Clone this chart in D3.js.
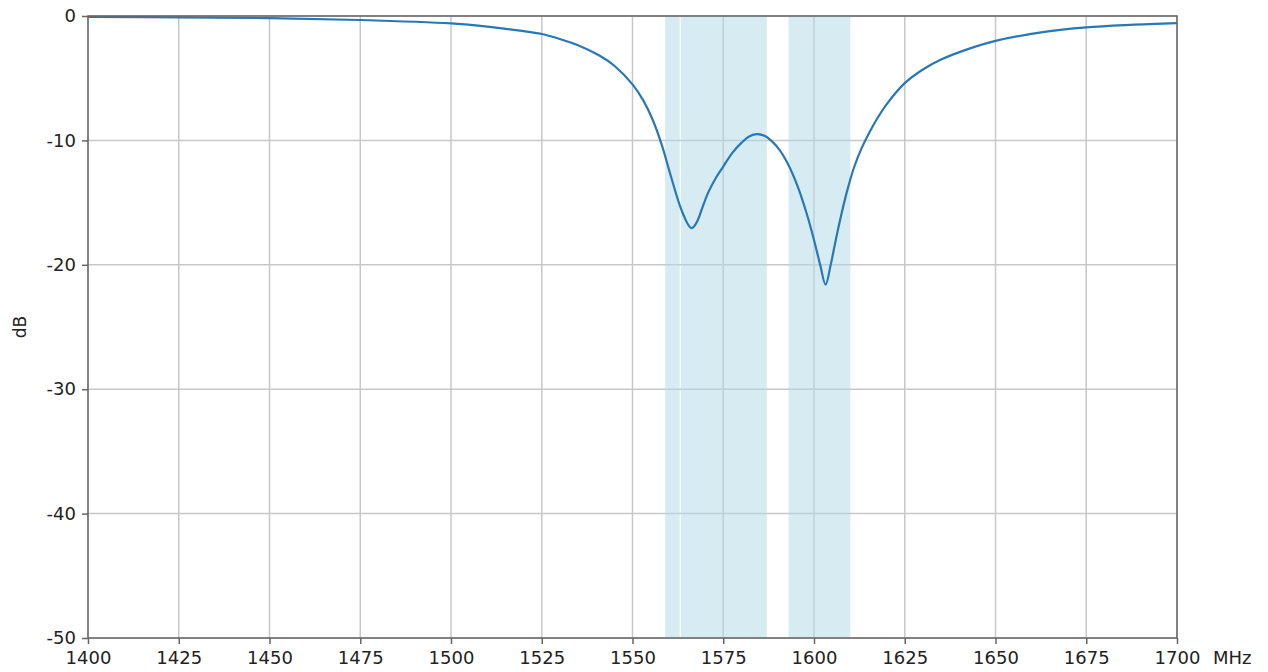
<!DOCTYPE html>
<html><head><meta charset="utf-8">
<script src="https://cdn.jsdelivr.net/npm/d3@7"></script>
<style>body{margin:0;background:#fff}svg{display:block}text{font-family:"DejaVu Sans",sans-serif;fill:#222}</style>
</head><body><svg id="c" width="1268" height="672"></svg>
<script>
const freq = [1400,1425,1450,1475,1500,1510,1519,1525,1530,1535,1541,1545,1550,1553,1555.5,1558,1560.5,1563,1564.5,1565.5,1566.2,1567,1568,1569.5,1571,1573,1575,1577.5,1580,1582,1584.2,1586.5,1588.5,1590.6,1593,1595.5,1598,1600,1601.7,1603.2,1604.6,1606,1607.5,1609,1611,1613,1615,1617.5,1620,1625,1630,1635,1642,1650,1663,1675,1687,1700];
const dB = [-0.08,-0.11,-0.17,-0.32,-0.6,-0.85,-1.18,-1.45,-1.85,-2.35,-3.2,-4.0,-5.5,-6.8,-8.3,-10.3,-12.8,-15.2,-16.3,-16.85,-17.05,-16.9,-16.4,-15.2,-14.1,-13.0,-12.1,-11.0,-10.2,-9.7,-9.5,-9.65,-10.1,-10.8,-12.0,-13.7,-15.9,-18.0,-20.0,-21.6,-20.0,-18.0,-16.0,-14.2,-12.2,-10.7,-9.5,-8.2,-7.1,-5.4,-4.3,-3.5,-2.7,-2.0,-1.3,-0.92,-0.72,-0.58];
const bandStart = [1559, 1563.3, 1593];
const bandEnd = [1563.0, 1587, 1610];
const xTicks = [1400,1425,1450,1475,1500,1525,1550,1575,1600,1625,1650,1675,1700];
const yTicks = [0,-10,-20,-30,-40,-50];

const svg = d3.select("#c");
const L=88,R=1177,T=16,B=638;
const x = d3.scaleLinear().domain([1400,1700]).range([L,R]);
const y = d3.scaleLinear().domain([-50,0]).range([B,T]);

// grid
svg.append("g").selectAll("line").data(xTicks).join("line")
  .attr("x1",d=>x(d)).attr("x2",d=>x(d)).attr("y1",T).attr("y2",B)
  .attr("stroke","#c8c8c8").attr("stroke-width",1.5);
svg.append("g").selectAll("line").data(yTicks).join("line")
  .attr("x1",L).attr("x2",R).attr("y1",d=>y(d)).attr("y2",d=>y(d))
  .attr("stroke","#c8c8c8").attr("stroke-width",1.5);

// bands
svg.append("g").selectAll("rect").data(bandStart.map((s,i)=>[s,bandEnd[i]])).join("rect")
  .attr("x",d=>x(d[0])).attr("width",d=>x(d[1])-x(d[0]))
  .attr("y",T).attr("height",B-T).attr("fill","#add8e6").attr("fill-opacity",0.5);

// curve
const line = d3.line().x((d,i)=>x(freq[i])).y(d=>y(d)).curve(d3.curveCatmullRom.alpha(0.5));
svg.append("path").datum(dB).attr("d",line).attr("fill","none")
  .attr("stroke","#2878b8").attr("stroke-width",2.2);

// frame
svg.append("rect").attr("x",L).attr("y",T).attr("width",R-L).attr("height",B-T)
  .attr("fill","none").attr("stroke","#666").attr("stroke-width",1.5);

// axes
const xa = svg.append("g").attr("transform",`translate(0,${B})`)
  .call(d3.axisBottom(x).tickValues(xTicks).tickSize(6).tickPadding(6).tickFormat(d3.format("d")));
const ya = svg.append("g").attr("transform",`translate(${L},0)`)
  .call(d3.axisLeft(y).tickValues(yTicks).tickSize(6).tickPadding(6).tickFormat(d=>d===0?"0":String(d).replace("−","-")));
[xa,ya].forEach(a=>{
  a.select(".domain").remove();
  a.selectAll(".tick line").attr("stroke","#666").attr("stroke-width",1.5);
  a.selectAll(".tick text").attr("font-size",18).attr("fill","#222").attr("font-family","DejaVu Sans");
});
xa.selectAll(".tick text").attr("dy","0.71em").attr("y",13);

svg.append("text").attr("x",1213).attr("y",B+13).attr("dy","0.71em").attr("font-size",18).text("MHz");
svg.append("text").attr("transform",`translate(26,${(T+B)/2}) rotate(-90)`)
  .attr("text-anchor","middle").attr("font-size",17).text("dB");
</script></body></html>
